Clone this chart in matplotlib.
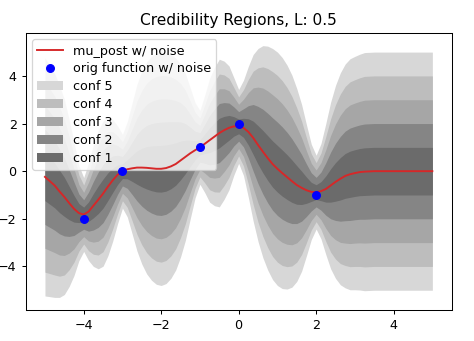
import numpy as np
import matplotlib
matplotlib.use("Agg")
import matplotlib.pyplot as plt

# observed points
x_obs = [-4, -3, -1, 0, 2]
y_obs = [-2, 0, 1, 2, -1]

# posterior mean and std, one row per unit of x
x_grid = [-5.0, -4.875, -4.75, -4.625, -4.5, -4.375, -4.25, -4.125,
          -4.0, -3.875, -3.75, -3.625, -3.5, -3.375, -3.25, -3.125,
          -3.0, -2.875, -2.75, -2.625, -2.5, -2.375, -2.25, -2.125,
          -2.0, -1.875, -1.75, -1.625, -1.5, -1.375, -1.25, -1.125,
          -1.0, -0.875, -0.75, -0.625, -0.5, -0.375, -0.25, -0.125,
          0.0, 0.125, 0.25, 0.375, 0.5, 0.625, 0.75, 0.875,
          1.0, 1.125, 1.25, 1.375, 1.5, 1.625, 1.75, 1.875,
          2.0, 2.125, 2.25, 2.375, 2.5, 2.625, 2.75, 2.875,
          3.0, 3.125, 3.25, 3.375, 3.5, 3.625, 3.75, 3.875,
          4.0, 4.125, 4.25, 4.375, 4.5, 4.625, 4.75, 4.875,
          5.0]
mu_post = [-0.24, -0.42, -0.60, -0.85, -1.08, -1.34, -1.58, -1.76,
           -1.82, -1.70, -1.45, -1.20, -0.94, -0.65, -0.38, -0.15,
           0.00, 0.08, 0.12, 0.15, 0.15, 0.14, 0.12, 0.10,
           0.10, 0.13, 0.20, 0.30, 0.45, 0.60, 0.75, 0.88,
           1.00, 1.15, 1.30, 1.45, 1.60, 1.72, 1.82, 1.88,
           1.88, 1.82, 1.65, 1.40, 1.10, 0.82, 0.55, 0.30,
           0.10, -0.08, -0.25, -0.42, -0.58, -0.70, -0.80, -0.87,
           -0.88, -0.84, -0.75, -0.60, -0.45, -0.32, -0.20, -0.13,
           -0.08, -0.04, -0.02, -0.01, 0.0, 0.0, 0.0, 0.0,
           0.0, 0.0, 0.0, 0.0, 0.0, 0.0, 0.0, 0.0,
           0.0]
sd_post = [1.00, 0.97, 0.94, 0.89, 0.82, 0.70, 0.56, 0.40,
           0.31, 0.41, 0.51, 0.58, 0.61, 0.58, 0.51, 0.41,
           0.31, 0.40, 0.55, 0.70, 0.81, 0.89, 0.94, 0.97,
           0.98, 0.97, 0.94, 0.89, 0.81, 0.70, 0.55, 0.40,
           0.31, 0.41, 0.52, 0.58, 0.62, 0.58, 0.52, 0.41,
           0.31, 0.40, 0.55, 0.70, 0.81, 0.89, 0.94, 0.97,
           0.98, 0.97, 0.94, 0.89, 0.81, 0.70, 0.55, 0.40,
           0.31, 0.40, 0.55, 0.70, 0.81, 0.89, 0.94, 0.97,
           0.98, 0.99, 1.0, 1.0, 1.0, 1.0, 1.0, 1.0,
           1.0, 1.0, 1.0, 1.0, 1.0, 1.0, 1.0, 1.0,
           1.0]

conf_levels = [5, 4, 3, 2, 1]
conf_colors = ["#d7d7d7", "#bdbdbd", "#a6a6a6", "#858585", "#6b6b6b"]

x = np.array(x_grid)
mu = np.array(mu_post)
sd = np.array(sd_post)

dpi = 92
fig = plt.figure(figsize=(474 / dpi, 341 / dpi), dpi=dpi)
ax = fig.add_axes([0.054, 0.091, 0.899, 0.812])

# line and points sit above the legend box, as in the original
ax.plot(x, mu, color="#d62728", label="mu_post w/ noise", zorder=6)
ax.plot(x_obs, y_obs, "bo", label="orig function w/ noise", zorder=7)
for k, c in zip(conf_levels, conf_colors):
    ax.fill_between(x, mu - k * sd, mu + k * sd, color=c, linewidth=0,
                    label=f"conf {k}")

ax.set_title("Credibility Regions, L: 0.5")
ax.legend(loc="upper left", labelspacing=0.38)

fig.savefig("out.png", dpi=dpi)
